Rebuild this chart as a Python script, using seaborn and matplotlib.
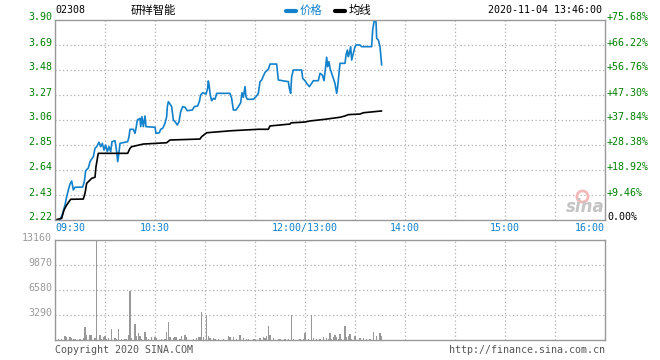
import matplotlib
matplotlib.use("Agg")
import matplotlib.pyplot as plt
from matplotlib.lines import Line2D
import seaborn as sns
import pandas as pd

# ---------------- data ----------------
stock_code = "02308"
stock_name = "研祥智能"
date_text = "2020-11-04 13:46:00"
prev_close = 2.22

price_min = [0, 3, 4.6, 6, 7, 8, 9, 10, 11, 12, 16.6, 17.6, 18.4, 20, 21, 22, 23, 24, 25, 26.4,
             27.4, 28.4, 29.4, 30.4, 31.4, 32.4, 33.4, 34.2, 36, 37, 37.6, 38.2, 39, 43.6, 44.4, 45,
             47, 48, 48.6, 49.4, 51, 51.4, 52.2, 53, 54, 54.6, 60, 60.6, 62.6, 63.4, 64.6, 66, 67,
             67.4, 68, 69, 70, 71, 72, 73.4, 74.4, 75.4, 76.6, 78, 79.4, 82.4, 83.6, 85.6, 86.6,
             87.4, 88.6, 90.6, 91.6, 92, 92.6, 93, 93.6, 94, 95, 96, 97, 105, 106, 107, 108.6, 110,
             111.4, 112.2, 113, 114, 114.6, 115.4, 119, 120.6, 122, 123, 124, 126, 128, 129, 133,
             134, 140, 140.6, 141.4, 142, 143, 148, 148.6, 150, 151, 152.6, 154, 155, 158, 159,
             160.4, 161.4, 162.4, 163, 163.6, 164.4, 165, 166, 167, 168, 169, 169.6, 170.6, 171,
             174, 174.6, 175.4, 176, 176.6, 177.4, 178, 179, 180, 180.6, 183, 184, 187, 190, 190.6,
             191.4, 192.6, 193, 194, 195, 196]
price_val = [2.22, 2.22, 2.276, 2.346, 2.416, 2.472, 2.522, 2.548, 2.472, 2.495, 2.497, 2.542,
             2.634, 2.657, 2.71, 2.732, 2.752, 2.822, 2.836, 2.873, 2.836, 2.864, 2.808, 2.85,
             2.794, 2.836, 2.794, 2.878, 2.886, 2.794, 2.71, 2.766, 2.864, 2.878, 2.92, 2.982,
             2.982, 2.948, 2.99, 3.06, 3.074, 3.004, 3.088, 3.004, 3.094, 3.004, 2.999, 2.948,
             2.953, 2.982, 2.99, 3.032, 3.088, 3.172, 3.214, 3.194, 3.172, 3.06, 3.046, 3.018,
             3.046, 3.13, 3.172, 3.167, 3.138, 3.144, 3.172, 3.178, 3.214, 3.27, 3.289, 3.278,
             3.326, 3.388, 3.34, 3.284, 3.242, 3.222, 3.242, 3.234, 3.284, 3.284, 3.242, 3.144,
             3.144, 3.172, 3.205, 3.289, 3.251, 3.34, 3.256, 3.234, 3.234, 3.256, 3.284, 3.382,
             3.396, 3.46, 3.486, 3.53, 3.53, 3.396, 3.382, 3.326, 3.284, 3.424, 3.48, 3.48, 3.41,
             3.39, 3.368, 3.34, 3.368, 3.39, 3.39, 3.452, 3.438, 3.39, 3.508, 3.587, 3.508, 3.55,
             3.494, 3.452, 3.41, 3.368, 3.284, 3.34, 3.48, 3.536, 3.536, 3.606, 3.648, 3.592,
             3.62, 3.676, 3.564, 3.62, 3.676, 3.69, 3.69, 3.676, 3.676, 3.676, 3.816, 3.886,
             3.886, 3.746, 3.732, 3.676, 3.522]

avg_min = [0, 4, 5.4, 7, 9.4, 17, 18, 19, 20.6, 22, 24, 24.6, 25.6, 26, 43.6, 45, 46, 53, 67, 69,
           87, 88, 91, 106, 122, 128, 129, 141, 141.6, 150, 153, 162, 171, 174, 176, 183, 185, 196]
avg_val = [2.22, 2.234, 2.304, 2.346, 2.394, 2.396, 2.444, 2.528, 2.55, 2.57, 2.579, 2.668,
           2.752, 2.78, 2.78, 2.822, 2.836, 2.858, 2.869, 2.892, 2.90, 2.92, 2.953, 2.97,
           2.982, 2.982, 3.01, 3.026, 3.036, 3.043, 3.052, 3.066, 3.083, 3.094, 3.105, 3.11,
           3.121, 3.136]

vol_min = [2, 4, 6, 7, 9, 10, 11, 12, 15, 17, 18, 19, 21, 22, 24, 25, 27, 28, 29, 30, 31, 32, 34,
           36, 37, 38, 40, 42, 43, 44, 45, 46, 48, 49, 50, 51, 52, 54, 55, 56, 58, 60, 61, 64,
           66, 67, 68, 69, 71, 72, 73, 75, 76, 78, 79, 83, 85, 86, 87, 88, 89, 91, 92, 93, 95,
           96, 98, 101, 104, 105, 107, 109, 111, 113, 115, 116, 119, 120, 123, 125, 126, 127,
           128, 129, 131, 134, 135, 138, 140, 142, 143, 147, 149, 150, 152, 154, 155, 157, 159,
           161, 163, 164, 165, 166, 167, 168, 169, 170, 171, 172, 174, 175, 176, 177, 178, 180,
           183, 185, 187, 189, 191, 193, 195, 196]
vol_val = [130, 130, 525, 350, 440, 220, 130, 130, 130, 260, 1710, 660, 660, 660, 220, 13160,
           660, 130, 350, 525, 130, 220, 1450, 220, 130, 1450, 130, 130, 130, 660, 6450, 220,
           2100, 525, 880, 525, 130, 1050, 440, 130, 440, 350, 220, 130, 130, 1050, 2370, 350,
           220, 350, 350, 130, 525, 660, 350, 130, 220, 350, 350, 3680, 350, 3290, 525, 220,
           220, 130, 130, 130, 525, 350, 440, 130, 660, 260, 130, 130, 130, 130, 260, 440, 260,
           525, 1840, 660, 260, 130, 130, 130, 130, 3290, 130, 130, 130, 880, 130, 3290, 260,
           130, 130, 350, 260, 130, 920, 130, 440, 660, 350, 130, 790, 130, 1840, 440, 525, 790,
           130, 525, 260, 260, 130, 130, 1050, 525, 920, 525]

price_ticks = [2.22, 2.43, 2.64, 2.85, 3.06, 3.27, 3.48, 3.69, 3.90]
pct_labels = ["0.00%", "+9.46%", "+18.92%", "+28.38%", "+37.84%", "+47.30%", "+56.76%",
              "+66.22%", "+75.68%"]
vol_ticks = [3290, 6580, 9870, 13160]
time_tick_min = [0, 60, 150, 210, 270, 330]
time_tick_lbl = ["09:30", "10:30", "12:00/13:00", "14:00", "15:00", "16:00"]

# ---------------- style ----------------
sns.set_style("white")
plt.rcParams['font.family'] = ['DejaVu Sans Mono', 'Noto Sans CJK SC']

W, H = 660, 360
fig = plt.figure(figsize=(6.6, 3.6), dpi=100)
fig.patch.set_facecolor("white")

def fx(x):
    return x / W

def fy(y):
    return 1 - y / H

BLUE = "#1281cc"
GREEN = "#008000"
GRAY = "#999999"
GRID = "#b0b0b0"
FS = 7.2

ax = fig.add_axes([fx(55), fy(220), 550 / W, 200 / H])
axv = fig.add_axes([fx(55), fy(340), 550 / W, 100 / H])

df_p = pd.DataFrame({"m": price_min, "p": price_val})
df_a = pd.DataFrame({"m": avg_min, "p": avg_val})
sns.lineplot(data=df_p, x="m", y="p", ax=ax, color=BLUE, lw=1.2, estimator=None, sort=False)
sns.lineplot(data=df_a, x="m", y="p", ax=ax, color="black", lw=1.2, estimator=None, sort=False)

axv.bar(vol_min, vol_val, width=0.7, color=GRAY, linewidth=0)

for a, ylo, yhi, yt in [(ax, 2.22, 3.90, price_ticks[1:-1]), (axv, 0, 13160, vol_ticks[:-1])]:
    a.set_xlim(0, 330)
    a.set_ylim(ylo, yhi)
    a.set_xticks([])
    a.set_yticks([])
    a.set_xlabel("")
    a.set_ylabel("")
    for t in range(30, 330, 30):
        a.axvline(t, color=GRID, lw=0.9, ls=(0, (1, 2)), zorder=0)
    for v in yt:
        a.axhline(v, color=GRID, lw=0.9, ls=(0, (1, 2)), zorder=0)
    for s in a.spines.values():
        s.set_color(GRAY)
        s.set_linewidth(1.0)
        s.set_visible(True)
    a.set_facecolor("white")

# left / right price labels
for i, v in enumerate(price_ticks):
    ypix = 220 - i * 25
    fig.text(fx(52), fy(ypix - 2.5), f"{v:.2f}", ha="right", va="center", color=GREEN, fontsize=FS)
    fig.text(fx(607), fy(ypix - 2.5), pct_labels[i], ha="left", va="center",
             color=("black" if i == 0 else GREEN), fontsize=FS)

for i, v in enumerate(vol_ticks):
    ypix = 315 - i * 25
    fig.text(fx(52), fy(ypix - 2), str(v), ha="right", va="center", color=GRAY, fontsize=FS)

# time labels
for m, lbl in zip(time_tick_min, time_tick_lbl):
    xp = 55 + m * 550 / 330
    ha = "center"
    if m == 0:
        ha = "left"
    elif m == 330:
        ha = "right"
    fig.text(fx(xp), fy(228), lbl, ha=ha, va="center", color=BLUE, fontsize=FS)

# header
fig.text(fx(55), fy(10), stock_code, ha="left", va="center", color="black", fontsize=FS)
fig.text(fx(131), fy(10), stock_name, ha="left", va="center", color="black", fontsize=8.2,
         family=["Noto Sans CJK SC"])
fig.add_artist(Line2D([fx(286), fx(296)], [fy(10.5), fy(10.5)], lw=3, color=BLUE,
                      transform=fig.transFigure))
fig.text(fx(300), fy(10), "价格", ha="left", va="center", color=BLUE, fontsize=8.2,
         family=["Noto Sans CJK SC"])
fig.add_artist(Line2D([fx(335), fx(345)], [fy(10.5), fy(10.5)], lw=3, color="black",
                      transform=fig.transFigure))
fig.text(fx(349), fy(10), "均线", ha="left", va="center", color="black", fontsize=8.2,
         family=["Noto Sans CJK SC"])
fig.text(fx(602), fy(10), date_text, ha="right", va="center", color="black", fontsize=FS)

# watermark
fig.add_artist(Line2D([fx(582)], [fy(196)], marker="o", ms=8, mfc="none", mec="#f2b8b8",
                      mew=2, transform=fig.transFigure))
fig.text(fx(585), fy(207), "sina", ha="center", va="center", color="#c4c4c4", fontsize=12,
         fontstyle="italic", fontweight="bold", family=["DejaVu Sans"])

# footer
fig.text(fx(55), fy(350), "Copyright 2020 SINA.COM", ha="left", va="center", color="#555555",
         fontsize=FS)
fig.text(fx(605), fy(350), "http://finance.sina.com.cn", ha="right", va="center",
         color="#555555", fontsize=FS)

fig.savefig("out.png", dpi=100, facecolor="white")
